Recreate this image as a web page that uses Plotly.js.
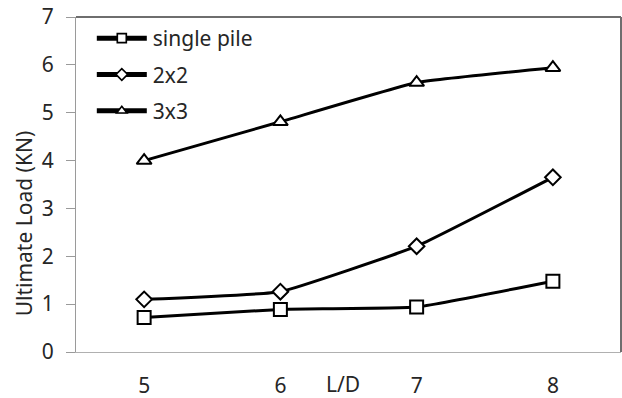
<!DOCTYPE html>
<html>
<head>
<meta charset="utf-8">
<script src="https://cdn.plot.ly/plotly-3.0.1.min.js"></script>
<style>
  html, body { margin: 0; padding: 0; background: #fff; }
  #chart { width: 622px; height: 398px; }
</style>
</head>
<body>
<div id="chart"></div>
<script>
// Slenderness ratio L/D on the horizontal axis
const ldRatio = [5, 6, 7, 8];

// Ultimate load (kN) per pile configuration
const singlePile = [0.72, 0.89, 0.94, 1.48];
const group2x2 = [1.10, 1.26, 2.21, 3.65];
const group3x3 = [4.00, 4.81, 5.63, 5.94];

const seriesNames = ['single pile', '2x2', '3x3'];
const yTicks = [0, 1, 2, 3, 4, 5, 6, 7];

const FONT = 'Noto Sans, sans-serif';
const TEXT = '#262626';

function series(name, y, symbol, size) {
  return {
    x: ldRatio, y: y, name: name, legendgroup: name,
    type: 'scatter', mode: 'lines+markers',
    line: { color: '#000', width: 3, shape: 'spline', smoothing: 0.3 },
    marker: { symbol: symbol, size: size, color: '#fff',
              line: { color: '#000', width: 2 } },
    cliponaxis: false
  };
}

const data = [
  series(seriesNames[0], singlePile, 'square', 13),
  series(seriesNames[1], group2x2, 'diamond', 12),
  series(seriesNames[2], group3x3, 'triangle-up', 13)
];

const layout = {
  width: 622, height: 398,
  margin: { l: 76, r: 1, t: 17, b: 46 },
  paper_bgcolor: '#fff', plot_bgcolor: '#fff',
  font: { family: FONT, size: 21, color: TEXT },
  showlegend: true,
  legend: {
    x: 0.029, y: 0.997, xanchor: 'left', yanchor: 'top',
    bgcolor: 'rgba(0,0,0,0)', traceorder: 'grouped', tracegroupgap: 6,
    font: { family: FONT, size: 21, color: TEXT },
    itemsizing: 'constant'
  },
  xaxis: {
    range: [4.5, 8.5], tickvals: ldRatio, ticktext: ldRatio.map(String),
    showgrid: false, zeroline: false,
    showline: true, linecolor: '#b0b0b0', linewidth: 1,
    ticks: '', ticklabelstandoff: 15,
    tickfont: { family: FONT, size: 21, color: TEXT }
  },
  yaxis: {
    range: [0, 7], tickvals: yTicks,
    showgrid: false, zeroline: false,
    showline: true, linecolor: '#9a9a9a', linewidth: 1,
    ticks: 'outside', ticklen: 9, tickcolor: '#9a9a9a', tickwidth: 1,
    ticklabelstandoff: 8,
    tickfont: { family: FONT, size: 21, color: TEXT }
  },
  shapes: [
    { type: 'line', xref: 'paper', yref: 'paper', x0: 0, x1: 1, y0: 1, y1: 1,
      line: { color: '#6e6e6e', width: 2 } },
    { type: 'line', xref: 'paper', yref: 'paper', x0: 1, x1: 1, y0: 0, y1: 1,
      line: { color: '#6e6e6e', width: 2 } }
  ],
  annotations: [
    { text: 'Ultimate Load (KN)', xref: 'paper', yref: 'paper',
      x: -0.0955, y: 0.384, xanchor: 'center', yanchor: 'middle',
      textangle: -90, showarrow: false,
      font: { family: FONT, size: 21, color: TEXT } },
    { text: 'L/D', xref: 'paper', yref: 'paper',
      x: 0.49, y: -0.096, xanchor: 'center', yanchor: 'middle',
      showarrow: false,
      font: { family: FONT, size: 21, color: TEXT } }
  ]
};

// Longer legend samples: stretch the line, centre a smaller symbol, shift the label
function widenLegend(gd) {
  gd.querySelectorAll('.legend [clip-path]').forEach(function (el) {
    el.removeAttribute('clip-path');
  });
  gd.querySelectorAll('.legend .traces').forEach(function (tr) {
    tr.querySelectorAll('.legendlines path').forEach(function (p) {
      p.setAttribute('d', 'M5,0h50');
    });
    tr.querySelectorAll('.legendsymbols path').forEach(function (p) {
      p.setAttribute('transform', 'translate(30,0) scale(0.75)');
      p.style.strokeWidth = '2.2px';
    });
    const t = tr.querySelector('.legendtext');
    if (t) {
      t.setAttribute('x', 61);
      t.querySelectorAll('tspan').forEach(function (s) {
        if (s.hasAttribute('x')) s.setAttribute('x', 61);
      });
    }
  });
}

Plotly.newPlot('chart', data, layout, { displayModeBar: false, staticPlot: true })
  .then(widenLegend);
</script>
</body>
</html>
